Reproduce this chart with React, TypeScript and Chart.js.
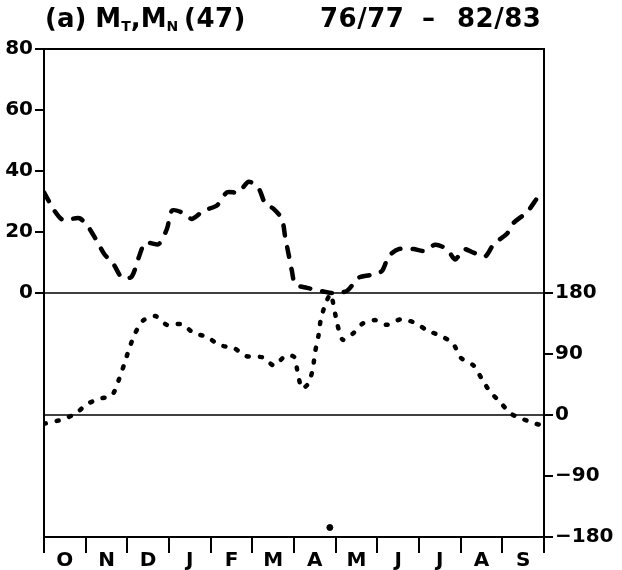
import React, { useEffect, useRef } from "react";
import { Chart, registerables } from "chart.js";

Chart.register(...registerables);

const MONTHS = ["O", "N", "D", "J", "F", "M", "A", "M", "J", "J", "A", "S"];
const MONTH_TICKS = [0, 1, 2, 3, 4, 5, 6, 7, 8, 9, 10, 11, 12];
const LEFT_TICKS = [0, 20, 40, 60, 80];
const RIGHT_TICKS = [-180, -90, 0, 90, 180];

// Amplitude (left axis), x in months from 1 October
const AMP_X = [0.0, 0.25, 0.45, 0.85, 1.07, 1.27, 1.45, 1.67, 1.87, 2.1, 2.27, 2.43, 2.75, 2.95, 3.07, 3.3, 3.55, 3.83, 4.15, 4.39, 4.67, 4.91, 5.15, 5.31, 5.51, 5.71, 5.79, 5.87, 5.95, 6.03, 6.31, 6.71, 6.91, 7.27, 7.55, 7.83, 8.11, 8.27, 8.51, 8.87, 9.11, 9.39, 9.67, 9.87, 10.07, 10.31, 10.59, 10.79, 11.11, 11.27, 11.59, 11.83];
const AMP_Y = [33, 27, 24, 24.5, 21.5, 17, 12.7, 9.4, 5, 5.3, 11.5, 16.5, 16, 21, 27, 26.5, 24.3, 27, 28.7, 33, 33, 36.5, 34.3, 29.3, 27.6, 24.3, 18.2, 12.7, 7.2, 2.8, 1.7, 0.5, 0, 0.7, 5, 5.9, 7.2, 12, 14.4, 14.4, 13.8, 15.8, 14.4, 11, 14.4, 13.2, 12, 16, 19.4, 23, 26.5, 31];

// Phase (right axis, degrees)
const PHASE_X = [0.0, 0.47, 0.77, 1.03, 1.33, 1.63, 1.79, 1.92, 2.04, 2.19, 2.39, 2.67, 2.95, 3.31, 3.59, 3.92, 4.21, 4.55, 4.85, 5.25, 5.52, 5.79, 6.0, 6.09, 6.19, 6.35, 6.45, 6.51, 6.59, 6.64, 6.75, 6.88, 7.04, 7.17, 7.41, 7.65, 7.95, 8.23, 8.55, 8.91, 9.19, 9.51, 9.81, 10.01, 10.31, 10.51, 10.71, 10.95, 11.19, 11.49, 11.81, 12.0];
const PHASE_Y = [-13, -6, 2.5, 16, 24, 29, 51, 74, 97, 121, 140, 146, 133, 134, 121, 115, 103, 99, 87, 85, 73, 87, 86, 62, 39, 47, 68, 94, 118, 140, 163, 178, 134, 111, 120, 135, 140, 133, 141, 136, 125, 117, 106, 84, 73, 53, 34, 19, 2.5, -6, -13, -16];

// Single wrapped phase point near the start of May
const WRAP_X = [6.86];
const WRAP_Y = [-166];

const REF_X = [0, 12];
const REF_Y = [0, 0];

const FONT = "'DejaVu Sans', 'Liberation Sans', sans-serif";

function pts(xs: number[], ys: number[]) {
  return xs.map((x, i) => ({ x, y: ys[i] }));
}

export default function App() {
  const ref = useRef<HTMLCanvasElement | null>(null);

  useEffect(() => {
    if (!ref.current) return;
    const tickFont = { family: FONT, size: 20, weight: "bold" as const };
    const chart = new Chart(ref.current, {
      type: "line",
      data: {
        datasets: [
          {
            label: "ref0",
            data: pts(REF_X, REF_Y),
            xAxisID: "x",
            yAxisID: "y",
            borderColor: "#000",
            borderWidth: 1.5,
            pointRadius: 0,
          },
          {
            label: "ref1",
            data: pts(REF_X, REF_Y),
            xAxisID: "x",
            yAxisID: "y1",
            borderColor: "#000",
            borderWidth: 1.5,
            pointRadius: 0,
          },
          {
            label: "amplitude",
            data: pts(AMP_X, AMP_Y),
            xAxisID: "x",
            yAxisID: "y",
            borderColor: "#000",
            borderWidth: 4.5,
            borderDash: [10, 12],
            borderCapStyle: "round",
            pointRadius: 0,
            tension: 0.25,
          },
          {
            label: "phase",
            data: pts(PHASE_X, PHASE_Y),
            xAxisID: "x",
            yAxisID: "y1",
            borderColor: "#000",
            borderWidth: 4.5,
            borderDash: [2, 11],
            borderCapStyle: "round",
            pointRadius: 0,
            tension: 0.25,
          },
          {
            label: "wrap",
            data: pts(WRAP_X, WRAP_Y),
            xAxisID: "x",
            yAxisID: "y1",
            showLine: false,
            pointRadius: 3,
            pointBackgroundColor: "#000",
            pointBorderColor: "#000",
          },
        ],
      },
      options: {
        animation: false,
        responsive: false,
        events: [],
        layout: { padding: 0 },
        plugins: {
          legend: { display: false },
          tooltip: { enabled: false },
          title: { display: false },
        },
        scales: {
          x: {
            type: "linear",
            position: "bottom",
            min: 0,
            max: 12,
            afterBuildTicks: (s: any) => {
              s.ticks = MONTH_TICKS.map((v) => ({ value: v }));
            },
            afterFit: (s: any) => {
              s.height = 33;
            },
            ticks: {
              autoSkip: false,
              maxRotation: 0,
              minRotation: 0,
              padding: -4,
              labelOffset: 500 / 24,
              color: "#000",
              font: tickFont,
              callback: (v: any) => MONTHS[Number(v)] ?? "",
            },
            grid: {
              drawOnChartArea: false,
              drawTicks: true,
              tickLength: 16,
              color: "#000",
              lineWidth: 2,
            },
            border: { display: true, color: "#000", width: 2 },
          },
          xTop: {
            type: "linear",
            position: "top",
            min: 0,
            max: 12,
            afterFit: (s: any) => {
              s.height = 49;
            },
            ticks: { display: false },
            grid: { display: false, drawTicks: false },
            border: { display: true, color: "#000", width: 2 },
          },
          y: {
            type: "linear",
            position: "left",
            min: -80,
            max: 80,
            afterBuildTicks: (s: any) => {
              s.ticks = LEFT_TICKS.map((v) => ({ value: v }));
            },
            afterFit: (s: any) => {
              s.width = 44;
            },
            ticks: {
              padding: 2,
              color: "#000",
              font: tickFont,
            },
            grid: {
              drawOnChartArea: false,
              drawTicks: true,
              tickLength: 9,
              color: "#000",
              lineWidth: 2,
            },
            border: { display: true, color: "#000", width: 2 },
          },
          y1: {
            type: "linear",
            position: "right",
            min: -180,
            max: 540,
            afterBuildTicks: (s: any) => {
              s.ticks = RIGHT_TICKS.map((v) => ({ value: v }));
            },
            afterFit: (s: any) => {
              s.width = 78;
            },
            ticks: {
              padding: 2,
              color: "#000",
              font: tickFont,
              callback: (v: any) => (Number(v) < 0 ? "\u2212" + Math.abs(Number(v)) : String(v)),
            },
            grid: {
              drawOnChartArea: false,
              drawTicks: true,
              tickLength: 9,
              color: "#000",
              lineWidth: 2,
            },
            border: { display: true, color: "#000", width: 2 },
          },
        },
      } as any,
    });
    return () => chart.destroy();
  }, []);

  const titleStyle: React.CSSProperties = {
    position: "absolute",
    top: 3,
    fontFamily: FONT,
    fontSize: 26,
    fontWeight: "bold",
    lineHeight: "30px",
    letterSpacing: "0.5px",
    color: "#000",
    whiteSpace: "nowrap",
  };
  const subStyle: React.CSSProperties = {
    fontSize: 14,
    verticalAlign: "-4px",
    letterSpacing: "0px",
  };

  return (
    <div style={{ position: "absolute", left: 0, top: 0, width: 622, height: 570, background: "#fff" }}>
      <canvas ref={ref} width={622} height={570} style={{ position: "absolute", left: 0, top: 0, width: 622, height: 570 }} />
      <span style={{ ...titleStyle, left: 45, letterSpacing: "0px" }}>
        (a) M<span style={subStyle}>T</span>,M<span style={subStyle}>N</span>
      </span>
      <span style={{ ...titleStyle, left: 184 }}>(47)</span>
      <span style={{ ...titleStyle, left: 320 }}>76/77</span>
      <span style={{ ...titleStyle, left: 422 }}>–</span>
      <span style={{ ...titleStyle, left: 457 }}>82/83</span>
    </div>
  );
}
